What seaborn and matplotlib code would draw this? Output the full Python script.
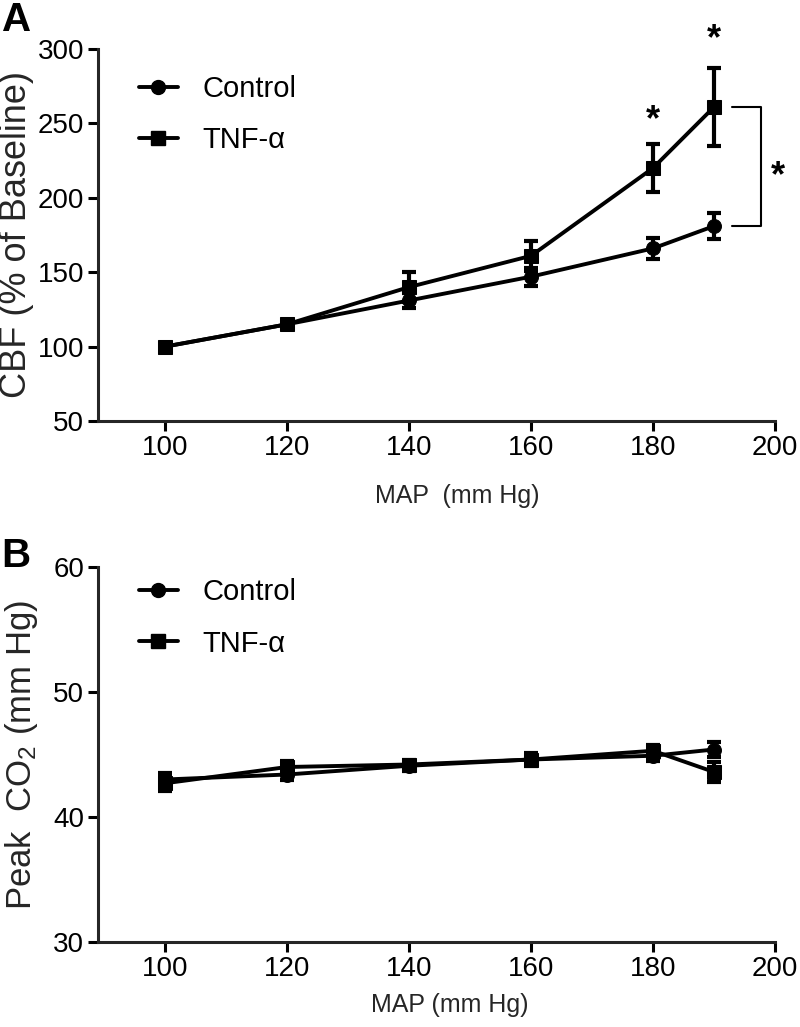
import numpy as np
import pandas as pd
import matplotlib
matplotlib.use("Agg")
import matplotlib.pyplot as plt
import seaborn as sns
from matplotlib.lines import Line2D

# ----------------------- Data -----------------------
map_levels = [100, 120, 140, 160, 180, 190]
groups = ["Control", "TNF-α"]

# Panel A: CBF (% of baseline), mean and SEM
cbf_control = [100, 115, 131, 147, 166, 181]
cbf_control_err = [0, 2, 5, 6, 7, 9]
cbf_tnf = [100, 115, 140, 161, 220, 261]
cbf_tnf_err = [0, 2, 10, 10, 16, 26]

# Panel B: Peak CO2 (mm Hg), mean and SEM
co2_control = [43.0, 43.4, 44.1, 44.6, 44.9, 45.4]
co2_control_err = [0.5, 0.4, 0.4, 0.4, 0.4, 0.6]
co2_tnf = [42.7, 44.0, 44.2, 44.6, 45.3, 43.6]
co2_tnf_err = [0.6, 0.5, 0.4, 0.5, 0.5, 0.8]

a_yticks = [50, 100, 150, 200, 250, 300]
b_yticks = [30, 40, 50, 60]
xticks = [100, 120, 140, 160, 180, 200]

FONT = "Liberation Sans"
markers = {"Control": "o", "TNF-α": "s"}


def build_frame(ctrl, ctrl_err, tnf, tnf_err):
    rows = []
    for g, vals, errs in [("Control", ctrl, ctrl_err), ("TNF-α", tnf, tnf_err)]:
        for x, v, e in zip(map_levels, vals, errs):
            rows.append({"MAP": x, "value": v, "sem": e, "group": g})
    return pd.DataFrame(rows)


def draw_panel(ax, df, ylim, yticks):
    sns.lineplot(data=df, x="MAP", y="value", style="group", markers=markers,
                 dashes=False, color="black", linewidth=2.8, markersize=10,
                 markeredgecolor="black", errorbar=None, legend=False, ax=ax,
                 zorder=3)
    for g in groups:
        sub = df[df["group"] == g]
        ax.errorbar(sub["MAP"], sub["value"], yerr=sub["sem"], fmt="none",
                    ecolor="black", elinewidth=3, capsize=5, capthick=3,
                    zorder=2)
    ax.set_xlim(89, 200)
    ax.set_ylim(*ylim)
    ax.set_xticks(xticks)
    ax.set_yticks(yticks)
    sns.despine(ax=ax)
    for s in ["left", "bottom"]:
        ax.spines[s].set_linewidth(2.2)
    ax.tick_params(direction="out", length=7, width=2.2, labelsize=20, pad=3)


def add_legend(ax, anchor):
    handles = [Line2D([], [], color="black", lw=2.8, marker=markers[g],
                      markersize=10) for g in groups]
    ax.legend(handles, groups, loc="upper left", bbox_to_anchor=anchor,
              frameon=False, fontsize=21, handlelength=1.35,
              handletextpad=0.85, labelspacing=0.8, borderaxespad=0,
              borderpad=0)


# ----------------------- Figure -----------------------
sns.set_theme(style="ticks")
plt.rcParams["font.family"] = [FONT, "DejaVu Sans"]
plt.rcParams["mathtext.fontset"] = "custom"
plt.rcParams["mathtext.rm"] = FONT
plt.rcParams["mathtext.default"] = "regular"
plt.rcParams["text.color"] = "black"
plt.rcParams["xtick.color"] = "black"
plt.rcParams["ytick.color"] = "black"

W, H = 800, 1027
fig = plt.figure(figsize=(W / 100, H / 100), dpi=100)

# Panel A
axA = fig.add_axes([98 / W, 1 - 421 / H, 677 / W, 372 / H])
dfA = build_frame(cbf_control, cbf_control_err, cbf_tnf, cbf_tnf_err)
draw_panel(axA, dfA, (50, 300), a_yticks)
axA.set_ylabel("CBF (% of Baseline)", fontsize=26)
axA.yaxis.set_label_coords(-0.094, 0.5)
axA.set_xlabel("MAP  (mm Hg)", fontsize=18)
axA.xaxis.set_label_coords(0.53, -0.17)
add_legend(axA, (0.06, 0.93))

# significance marks
axA.text(180, 252, "*", ha="center", va="center", fontsize=26, weight="bold")
axA.text(190, 306, "*", ha="center", va="center", fontsize=26, weight="bold")
axA.plot([193, 197.7, 197.7, 193], [261, 261, 181, 181], color="black",
         lw=1.5, clip_on=False)
axA.text(200.5, 214, "*", ha="center", va="center", fontsize=26,
         weight="bold", clip_on=False)
fig.text(0.002, 0.999, "A", ha="left", va="top", fontsize=29, weight="bold")

# Panel B
axB = fig.add_axes([98 / W, 1 - 942 / H, 677 / W, 375 / H])
dfB = build_frame(co2_control, co2_control_err, co2_tnf, co2_tnf_err)
draw_panel(axB, dfB, (30, 60), b_yticks)
axB.set_ylabel("Peak  CO$_2$ (mm Hg)", fontsize=25)
axB.yaxis.set_label_coords(-0.086, 0.5)
axB.set_xlabel("MAP (mm Hg)", fontsize=18)
axB.xaxis.set_label_coords(0.52, -0.135)
add_legend(axB, (0.06, 0.97))
fig.text(0.002, 0.477, "B", ha="left", va="top", fontsize=29, weight="bold")

fig.savefig("out.png", dpi=100)
